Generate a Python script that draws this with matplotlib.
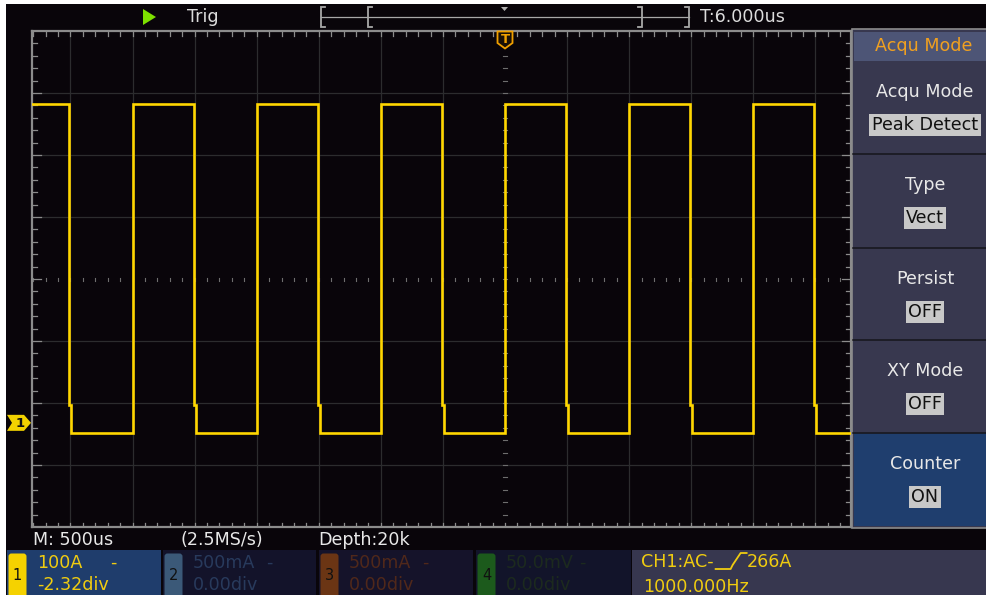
import matplotlib
matplotlib.use("Agg")
import matplotlib.pyplot as plt
from matplotlib.patches import Rectangle, Polygon, FancyBboxPatch

# ---------------- data ----------------
time_per_div_us = 500
edge_times_us = [-3500, -3000, -2500, -2000, -1500, -1000, -500, 0, 500, 1000, 1500, 2000, 2500]
edge_kinds = ["fall", "rise", "fall", "rise", "fall", "rise", "fall", "rise", "fall", "rise", "fall", "rise", "fall"]
high_level_div = 2.82
low_level_div = -2.48
fall_knee_div = -2.03
fall_knee_width_us = 16
ch1_offset_div = -2.32
trigger_time_us = 0

top_run_label = "Trig"
top_time_label = "T:6.000us"
bottom_labels = ["M: 500us", "(2.5MS/s)", "Depth:20k"]

menu_header = "Acqu Mode"
menu_titles = ["Acqu Mode", "Type", "Persist", "XY Mode", "Counter"]
menu_values = ["Peak Detect", "Vect", "OFF", "OFF", "ON"]

channel_ids = ["1", "2", "3", "4"]
channel_scales = ["100A", "500mA", "500mA", "50.0mV"]
channel_offsets = ["-2.32div", "0.00div", "0.00div", "0.00div"]
info_line1_pre = "CH1:AC-"
info_line1_post = "266A"
info_line2 = "1000.000Hz"

# ---------------- layout / style ----------------
W, H = 987, 595
GL, GR, GT, GB = 32, 851, 31, 527
CX, CY = 505, 279
PXX, PXY = 62.08, 62.0
FONT = "DejaVu Sans"
FS = 12.6
BG = "#09050a"
GRID = "#2c2c2e"
FRAME = "#8c8c8c"
YEL = "#ffd600"

fig = plt.figure(figsize=(W / 100, H / 100), dpi=100)
fig.patch.set_facecolor("white")

bg = fig.add_axes([0, 0, 1, 1])
bg.set_xlim(0, W)
bg.set_ylim(H, 0)
bg.axis("off")


def rect(x0, y0, x1, y1, fc, ec="none", lw=0, z=1, ax=bg):
    r = Rectangle((x0, y0), x1 - x0, y1 - y0, facecolor=fc, edgecolor=ec, lw=lw, zorder=z)
    ax.add_patch(r)
    return r


def txt(x, y, s, color="#e6e6e6", size=FS, ha="left", va="center", ax=bg, z=5, **kw):
    return ax.text(x, y, s, color=color, fontsize=size, ha=ha, va=va, family=FONT, zorder=z, **kw)


# black screen (white margin on left/top)
rect(6, 4, W, H, BG, z=0)

# ---------------- top bar ----------------
bg.add_patch(Polygon([(143, 9), (143, 25), (156, 17)], closed=True, fc="#7de000", ec="none", zorder=3))
txt(187, 16.5, top_run_label, color="#dcdcdc")
LC = "#a8a8a8"
bg.plot([321, 689], [17, 17], color=LC, lw=0.9, zorder=3)
for xb, d in [(321, 1), (368, 1), (642, -1), (689, -1)]:
    bg.plot([xb + 4 * d, xb, xb, xb + 4 * d], [7, 7, 27, 27], color=LC, lw=1.3, zorder=3,
            solid_joinstyle="miter")
bg.add_patch(Polygon([(501, 7), (508, 7), (504.5, 11)], closed=True, fc="#b0b0b0", ec="none", zorder=3))
txt(700, 16.5, top_time_label, color="#dcdcdc")

# ---------------- waveform area ----------------
ax = fig.add_axes([GL / W, 1 - GB / H, (GR - GL) / W, (GB - GT) / H])
ax.set_facecolor(BG)
x0_us = (GL - CX) / PXX * time_per_div_us
x1_us = (GR - CX) / PXX * time_per_div_us
y0_div = -(GB - CY) / PXY
y1_div = (CY - GT) / PXY
ax.set_xlim(x0_us, x1_us)
ax.set_ylim(y0_div, y1_div)
ax.set_xticks([])
ax.set_yticks([])
for s in ax.spines.values():
    s.set_color(FRAME)
    s.set_linewidth(1.6)

# grid lines
k = int(x0_us // time_per_div_us)
t = k * time_per_div_us
while t <= x1_us:
    if t > x0_us and t != 0:
        ax.axvline(t, color=GRID, lw=0.9, zorder=1)
    t += time_per_div_us
for yv in [-3, -2, -1, 1, 2, 3]:
    ax.axhline(yv, color=GRID, lw=0.9, zorder=1)

# minor ticks
sub_us = time_per_div_us / 5
px_us = time_per_div_us / PXX  # us per pixel
px_dv = 1 / PXY                # div per pixel
TK = "#8c8c8c"
n0 = int(x0_us // sub_us)
n1 = int(x1_us // sub_us) + 1
for n in range(n0, n1 + 1):
    tt = n * sub_us
    if not (x0_us < tt < x1_us):
        continue
    ax.plot([tt, tt], [y1_div, y1_div - 4.5 * px_dv], color=TK, lw=0.9, zorder=2)
    ax.plot([tt, tt], [y0_div, y0_div + 4.5 * px_dv], color=TK, lw=0.9, zorder=2)
    ax.plot([tt, tt], [-1.5 * px_dv, 1.5 * px_dv], color="#6e6e6e", lw=0.8, zorder=2)
for m in range(-20, 21):
    yy = m * 0.2
    if not (y0_div < yy < y1_div):
        continue
    ln = 9 if m % 5 == 0 else 5
    ax.plot([x0_us, x0_us + ln * px_us], [yy, yy], color=TK, lw=0.9, zorder=2)
    ax.plot([x1_us, x1_us - ln * px_us], [yy, yy], color=TK, lw=0.9, zorder=2)
    ax.plot([-2 * px_us, 2 * px_us], [yy, yy], color="#6e6e6e", lw=0.8, zorder=2)

# square wave from edges
xs = [x0_us]
ys = [high_level_div if edge_kinds[0] == "fall" else low_level_div]
for te, kind in zip(edge_times_us, edge_kinds):
    if kind == "fall":
        a = te - fall_knee_width_us / 2
        b = te + fall_knee_width_us / 2
        xs += [a, a, b, b]
        ys += [high_level_div, fall_knee_div, fall_knee_div, low_level_div]
    else:
        xs += [te, te]
        ys += [low_level_div, high_level_div]
xs.append(x1_us)
ys.append(ys[-1])
ax.plot(xs, ys, color=YEL, lw=1.9, zorder=4, solid_joinstyle="miter")

# ---------------- overlay for markers ----------------
ov = fig.add_axes([0, 0, 1, 1])
ov.set_xlim(0, W)
ov.set_ylim(H, 0)
ov.axis("off")
ov.patch.set_alpha(0)

my = CY - ch1_offset_div * PXY
ov.add_patch(Polygon([(7, my - 8), (24, my - 8), (31, my), (24, my + 8), (7, my + 8), (12, my)],
                     closed=True, fc="#f2d200", ec="none", zorder=6))
txt(20, my + 0.5, "1", color="#111111", size=9.5, ha="center", weight="bold", ax=ov, z=7)

tx = CX + trigger_time_us / time_per_div_us * PXX
ov.add_patch(Polygon([(tx - 7.5, 31.5), (tx + 7.5, 31.5), (tx + 7.5, 43), (tx, 48.5), (tx - 7.5, 43)],
                     closed=True, fc="#1a1006", ec="#f0a000", lw=1.3, zorder=6))
txt(tx, 39.5, "T", color="#f0a000", size=9.5, ha="center", weight="bold", ax=ov, z=7)

# ---------------- right menu ----------------
MX0 = 852
rect(MX0, 29, W + 1, 528, "#38384f", ec=FRAME, lw=1.2, z=2)
rect(MX0 + 1.5, 32, W, 61, "#4d5576", z=3)
txt(924, 46, menu_header, color="#f0a020", ha="center")
tops = [61, 154, 248, 340, 433]
bots = [154, 248, 340, 433, 526]
for i, (t0, t1, ttl, val) in enumerate(zip(tops, bots, menu_titles, menu_values)):
    fc = "#1f3e6e" if i == len(tops) - 1 else "#38384f"
    rect(MX0 + 1.5, t0, W, t1, fc, z=3)
    if i > 0:
        bg.plot([MX0 + 1, W], [t0, t0], color="#18181f", lw=1.2, zorder=4)
    txt(925, t0 + 31, ttl, color="#e8e8e8", ha="center")
    txt(925, t0 + 64, val, color="#111111", ha="center",
        bbox=dict(boxstyle="square,pad=0.14", fc="#c8c8c8", ec="none"))

# ---------------- bottom info ----------------
for xl, s in zip([33, 180, 318], bottom_labels):
    txt(xl, 540, s, color="#e8e8e8")

box_x = [(7, 161), (163, 316), (319, 473), (476, 631)]
box_bg = ["#1f3d6c", "#13132a", "#15132a", "#12142a"]
tab_c = ["#f5d200", "#3b5978", "#6b3514", "#1c5a1c"]
txt_c = ["#f0cc10", "#283a5c", "#50281a", "#1c2a1e"]
for (xa, xb), b, tc, tcol, cid, sc, off in zip(box_x, box_bg, tab_c, txt_c, channel_ids, channel_scales, channel_offsets):
    rect(xa, 550, xb, H, b, z=2)
    bg.add_patch(FancyBboxPatch((xa + 1.5, 553.5), 18, 45, boxstyle="round,pad=0,rounding_size=3",
                                fc=tc, ec="none", zorder=3))
    txt(xa + 10.5, 575, cid, color="#111111", size=10.5, ha="center")
    txt(xa + 30, 563, sc, color=tcol)
    txt(xa + 103, 563, "-", color=tcol)
    txt(xa + 30, 585, off, color=tcol)

rect(632, 550, W, H, "#37374f", z=2)
t1 = txt(641, 562, info_line1_pre, color="#f0cc10")
txt(643, 587, info_line2, color="#f0cc10")
fig.canvas.draw()
bb = t1.get_window_extent()
gx = bb.x1 + 2
bg.plot([gx, gx + 15, gx + 17, gx + 23, gx + 25, gx + 31], [569, 569, 565, 556, 553, 553],
        color="#f0cc10", lw=1.3, zorder=5)
txt(gx + 31, 562, info_line1_post, color="#f0cc10")

fig.savefig("out.png", dpi=100, facecolor=fig.get_facecolor())
